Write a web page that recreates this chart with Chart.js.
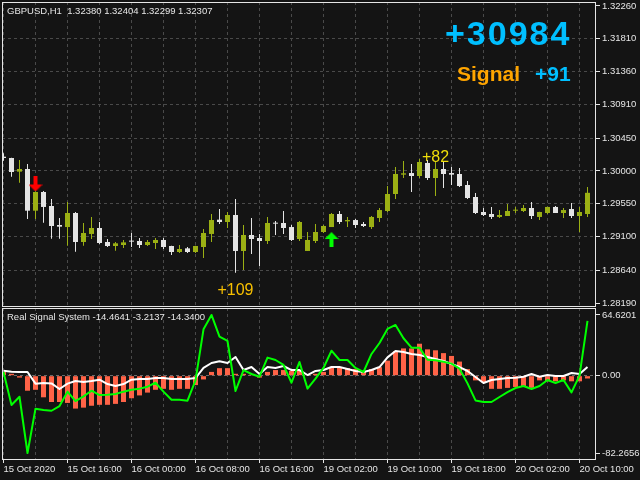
<!DOCTYPE html>
<html>
<head>
<meta charset="utf-8">
<script src="https://cdn.jsdelivr.net/npm/chart.js@4.4.0/dist/chart.umd.min.js"></script>
<style>
html,body{margin:0;padding:0;background:#141414;width:640px;height:480px;overflow:hidden;}
#main{position:absolute;left:0;top:0;}
#osc{position:absolute;left:0;top:307px;}
</style>
</head>
<body>
<canvas id="main" width="640" height="308"></canvas>
<canvas id="osc" width="640" height="173"></canvas>
<script>
// ---------------- DATA ----------------
// hourly GBPUSD candles, 15 Oct 2020 08:00 .. 20 Oct 2020 11:00 (74 bars)
const openP = [1.30195,1.30177,1.29990,1.30026,1.29455,1.29711,1.29519,1.29259,1.29231,1.29423,
1.29026,1.29136,1.29218,1.29026,1.28971,1.28985,1.29040,1.29040,1.28985,1.29012,
1.29053,1.28971,1.28889,1.28939,1.28889,1.28957,1.29136,1.29332,1.29300,1.29396,
1.28903,1.29122,1.29081,1.29040,1.29286,1.29286,1.29231,1.29067,1.28903,1.29040,
1.29163,1.29231,1.29410,1.29309,1.29327,1.29273,1.29231,1.29355,1.29451,1.29684,
1.29949,1.29971,1.29930,1.30109,1.29903,1.30026,1.29971,1.29958,1.29807,1.29643,
1.29437,1.29410,1.29369,1.29382,1.29455,1.29451,1.29492,1.29369,1.29423,1.29506,
1.29423,1.29478,1.29382,1.29410];
const highP = [1.30241,1.30180,1.30150,1.30095,1.29720,1.29725,1.29615,1.29355,1.29574,1.29437,
1.29286,1.29369,1.29300,1.29067,1.29026,1.29053,1.29149,1.29081,1.29053,1.29081,
1.29081,1.28976,1.28985,1.28957,1.28976,1.29204,1.29410,1.29478,1.29437,1.29615,
1.29259,1.29355,1.29136,1.29369,1.29314,1.29451,1.29259,1.29314,1.29163,1.29273,
1.29259,1.29423,1.29451,1.29369,1.29341,1.29300,1.29382,1.29492,1.29793,1.30054,
1.30136,1.30095,1.30163,1.30150,1.30122,1.30122,1.30054,1.30040,1.29862,1.29697,
1.29492,1.29506,1.29464,1.29547,1.29506,1.29533,1.29574,1.29442,1.29510,1.29519,
1.29492,1.29560,1.29506,1.29780];
const lowP = [1.30141,1.29921,1.29839,1.29341,1.29341,1.29291,1.29072,1.29072,1.28976,1.28893,
1.28976,1.29067,1.28999,1.28957,1.28907,1.28944,1.28957,1.28944,1.28971,1.28930,
1.28930,1.28848,1.28875,1.28875,1.28875,1.28807,1.29026,1.29273,1.29218,1.28606,
1.28642,1.28861,1.28697,1.28999,1.29122,1.29136,1.29040,1.29040,1.28903,1.29012,
1.29149,1.29231,1.29273,1.29231,1.29218,1.29231,1.29204,1.29300,1.29437,1.29615,
1.29903,1.29711,1.29903,1.29876,1.29656,1.29766,1.29807,1.29780,1.29615,1.29410,
1.29382,1.29341,1.29355,1.29382,1.29423,1.29437,1.29341,1.29327,1.29410,1.29423,
1.29355,1.29355,1.29163,1.29369];
const closeP = [1.30177,1.29985,1.30026,1.29455,1.29711,1.29506,1.29245,1.29236,1.29423,1.29026,
1.29149,1.29218,1.29012,1.28971,1.29008,1.29021,1.29031,1.28985,1.29026,1.29053,
1.28957,1.28889,1.28930,1.28889,1.28971,1.29149,1.29327,1.29300,1.29396,1.28903,
1.29122,1.29067,1.29040,1.29286,1.29277,1.29218,1.29053,1.29300,1.29053,1.29163,
1.29245,1.29410,1.29300,1.29327,1.29259,1.29245,1.29369,1.29464,1.29684,1.29958,
1.29967,1.29930,1.30122,1.29903,1.30026,1.29958,1.29949,1.29793,1.29629,1.29423,
1.29396,1.29369,1.29396,1.29451,1.29464,1.29492,1.29382,1.29437,1.29506,1.29423,
1.29464,1.29382,1.29437,1.29700];

// Real Signal System indicator
const histValues = [4,2,-2,-16,-15,-23,-28,-28,-29,-35,
-34,-32,-31,-31,-30,-28,-24,-21,-18,-15,
-14,-15,-14,-14,-10,-4,4,8,8,2,
2,1,-2,4,6,6,5,5,1,2,
4,9,9,8,7,5,7,9,16,26,
29,29,34,28,27,24,21,15,7,-5,
-7,-14,-14,-13,-12,-11,-13,-5,-6,-6,
-5,-6,-6,-3];
const whiteLine = [5.3,4.3,3.9,3.9,-8.5,-7.8,-8.2,-14.2,-8.5,-5.7,
-6.7,-5.7,-4.3,-8.9,-11.0,-8.9,-4.3,-3.6,-3.6,-2.5,
-2.5,-3.6,-3.6,-3.6,-2.5,8.2,13.5,15.3,13.5,19.9,
6.0,9.2,1.8,9.2,8.2,10.3,6.0,6.0,0.7,5.0,
6.0,9.2,9.2,7.1,5.0,3.9,6.0,9.2,19.5,26.3,
25.2,23.1,22.0,19.9,17.8,15.6,12.4,9.2,5.0,-1.4,
-7.8,-4.6,-3.6,-2.5,-2.1,-1.1,1.8,-1.1,0.7,-0.4,
-0.4,2.8,1.8,9.2];
const greenLine = [3.9,-31.2,-22.4,-82.2656,-35.1,-36.6,-37.3,-32.3,-17.0,-27.0,
-22.0,-16.0,-20.6,-20.2,-19.5,-17.0,-14.9,-13.8,-11.7,-7.5,
-17.0,-25.6,-25.6,-26.6,-5.0,49.3,64.6201,41.5,36.9,-16.3,
6.0,1.8,-1.1,19.2,16.7,11.4,-7.5,14.6,-13.8,-3.2,
8.2,26.6,16.7,16.7,8.2,3.9,23.1,34.8,49.7,54.0,
39.8,29.8,29.8,17.0,16.3,14.9,12.8,7.5,-8.2,-26.3,
-28.0,-28.0,-22.7,-17.4,-13.1,-11.0,-14.2,-11.0,-4.6,-7.8,
-4.6,-17.8,0,58.2];

// axis ticks
const gridBars = [0,4,8,12,16,20,24,28,32,36,40,44,48,52,56,60,64,68,72];
const timeLabels = ['15 Oct 2020','15 Oct 16:00','16 Oct 00:00','16 Oct 08:00','16 Oct 16:00',
                    '19 Oct 02:00','19 Oct 10:00','19 Oct 18:00','20 Oct 02:00','20 Oct 10:00'];
const priceTicks = [1.32260,1.31810,1.31360,1.30910,1.30450,1.30000,1.29550,1.29100,1.28640,1.28190];
const priceTickLabels = ['1.32260','1.31810','1.31360','1.30910','1.30450','1.30000','1.29550','1.29100','1.28640','1.28190'];
const oscTicks = [64.6201, 0, -82.2656];
const oscTickLabels = ['64.6201','0.00','-82.2656'];

// signals and notes
const sellSignals = [{bar: 4, price: 1.29821}];
const buySignals = [{bar: 41, price: 1.29060}];
const priceNotes = [{bar: 54, price: 1.30122, text: '+82'}, {bar: 29, price: 1.28300, text: '+109'}];
const headerText = 'GBPUSD,H1  1.32380 1.32404 1.32299 1.32307';
const oscHeader = 'Real Signal System -14.4641 -3.2137 -14.3400';

// ---------------- STYLE ----------------
const BULL = '#9bb014', BEAR = '#e4e4e4', GRID = '#4a4a4a', TXT = '#e6e6e6', FRAME = '#e6e6e6';
const NOTE_COLORS = ['#f0de0a', '#f8c000'];
const FONT = "'Liberation Sans', Arial, sans-serif";
Chart.defaults.font.family = FONT;
Chart.defaults.font.size = 9.5;
Chart.defaults.color = TXT;

const XMIN = -0.1875, XMAX = 74.0625;
const PMIN = 1.281352, PMAX = 1.323148;
const OMIN = -89.7, OMAX = 72.0;
const CLEAR = 'rgba(0,0,0,0)';

function makeArrow(color, down) {
  const c = document.createElement('canvas');
  c.width = 14; c.height = 15;
  const g = c.getContext('2d');
  g.fillStyle = color;
  g.beginPath();
  const pts = [[7,0],[14,7],[9,7],[9,15],[5,15],[5,7],[0,7]];
  pts.forEach((p, i) => { const yy = down ? 15 - p[1] : p[1]; if (i === 0) g.moveTo(p[0], yy); else g.lineTo(p[0], yy); });
  g.closePath(); g.fill();
  return c;
}

function xAxis(showLabels) {
  return {
    type: 'linear', min: XMIN, max: XMAX, offset: false, bounds: 'data',
    afterBuildTicks: s => { s.ticks = gridBars.map(v => ({value: v})); },
    afterFit: s => { s.paddingLeft = 0; s.paddingRight = 0; s.height = showLabels ? 20 : 1; },
    ticks: { display: showLabels, autoSkip: false, maxRotation: 0, minRotation: 0, align: 'start', padding: 1, color: TXT,
      callback: v => (v % 8 === 0 ? timeLabels[v / 8] : '') },
    grid: { offset: false, color: GRID, lineWidth: 1, drawOnChartArea: false, drawTicks: showLabels, tickLength: 3,
      tickColor: c => (c.tick && c.tick.value % 8 === 0) ? FRAME : CLEAR, tickBorderDash: [] },
    border: {display: false, dash: [3, 3]}
  };
}

// vertical dashed grid at the x scale's ticks
const vGrid = { id: 'vGrid', beforeDatasetsDraw(chart) {
    const {ctx, chartArea: a, scales: {x}} = chart;
    ctx.save();
    ctx.strokeStyle = GRID; ctx.lineWidth = 1; ctx.setLineDash([3, 3]);
    x.ticks.forEach(t => {
      const px = Math.floor(x.getPixelForValue(t.value)) + 0.5;
      ctx.beginPath(); ctx.moveTo(px, a.top); ctx.lineTo(px, a.bottom); ctx.stroke();
    });
    ctx.restore(); } };

const framePlugin = { id: 'frame', afterDraw(chart) {
    const a = chart.chartArea, ctx = chart.ctx;
    ctx.save(); ctx.strokeStyle = FRAME; ctx.lineWidth = 1;
    ctx.strokeRect(Math.round(a.left) + 0.5, Math.round(a.top) + 0.5, Math.round(a.right - a.left) - 1, Math.round(a.bottom - a.top) - 1);
    ctx.restore(); } };

const mainText = { id: 'mainText', afterDatasetsDraw(chart) {
    const {ctx, scales: {x, y}} = chart;
    ctx.save();
    ctx.font = '9.5px ' + FONT; ctx.fillStyle = TXT; ctx.textBaseline = 'middle'; ctx.textAlign = 'left';
    ctx.fillText(headerText, 7, 11);
    ctx.font = '16px ' + FONT; ctx.textAlign = 'center'; ctx.textBaseline = 'alphabetic';
    priceNotes.forEach((n, i) => { ctx.fillStyle = NOTE_COLORS[i]; ctx.fillText(n.text, x.getPixelForValue(n.bar), y.getPixelForValue(n.price)); });
    ctx.textAlign = 'left';
    ctx.font = 'bold 34px ' + FONT; ctx.fillStyle = '#00bfff';
    try { ctx.letterSpacing = '2px'; } catch (e) {}
    ctx.fillText('+30984', 445, 45);
    try { ctx.letterSpacing = '0px'; } catch (e) {}
    ctx.font = 'bold 21px ' + FONT; ctx.fillStyle = '#ffa500'; ctx.fillText('Signal', 457, 81);
    ctx.fillStyle = '#00bfff'; ctx.fillText('+91', 535, 81);
    ctx.restore(); } };

const oscText = { id: 'oscText', afterDatasetsDraw(chart) {
    const ctx = chart.ctx; ctx.save();
    ctx.font = '9.5px ' + FONT; ctx.fillStyle = TXT; ctx.textBaseline = 'middle'; ctx.textAlign = 'left';
    ctx.fillText(oscHeader, 7, 10.5); ctx.restore(); } };

const idx = openP.map((_, i) => i);

// ---------------- MAIN CHART ----------------
new Chart(document.getElementById('main'), {
  type: 'bar',
  data: { datasets: [
      { label: 'wicks', data: idx.map(i => ({x: i, y: [lowP[i], highP[i]]})), backgroundColor: idx.map(i => closeP[i] > openP[i] ? BULL : BEAR),
        grouped: false, barThickness: 1, maxBarThickness: 1, minBarLength: 1, inflateAmount: 0, borderWidth: 0, order: 2 },
      { label: 'bodies', data: idx.map(i => ({x: i, y: [openP[i], closeP[i]]})), backgroundColor: idx.map(i => closeP[i] > openP[i] ? BULL : BEAR),
        grouped: false, barThickness: 5, maxBarThickness: 5, minBarLength: 1, inflateAmount: 0, borderWidth: 0, order: 1 },
      { type: 'scatter', label: 'sell', data: sellSignals.map(s => ({x: s.bar, y: s.price})), pointStyle: makeArrow('#ff0000', true), pointRadius: 7, order: 0 },
      { type: 'scatter', label: 'buy', data: buySignals.map(s => ({x: s.bar, y: s.price})), pointStyle: makeArrow('#00ff00', false), pointRadius: 7, order: 0 } ] },
  options: { responsive: false, maintainAspectRatio: false, animation: false, events: [],
    layout: {autoPadding: false, padding: {left: 2, top: 2, right: 0, bottom: 0}},
    plugins: {legend: {display: false}, tooltip: {enabled: false}},
    scales: { x: xAxis(false),
      y: { type: 'linear', position: 'right', min: PMIN, max: PMAX, bounds: 'data',
        afterBuildTicks: s => { s.ticks = priceTicks.map(v => ({value: v})); },
        afterFit: s => { s.width = 44; s.paddingTop = 0; s.paddingBottom = 0; },
        ticks: {padding: 2, color: TXT, callback: (v, i) => priceTickLabels[i]},
        grid: { color: c => (c.index > 0 && c.index < 9) ? GRID : CLEAR, drawTicks: true, tickLength: 4, tickColor: FRAME, tickBorderDash: [] },
        border: {display: false, dash: [3, 3]} } } },
  plugins: [vGrid, mainText, framePlugin]
});

// ---------------- OSCILLATOR ----------------
new Chart(document.getElementById('osc'), {
  type: 'bar',
  data: { datasets: [
      { label: 'histogram', data: idx.map(i => ({x: i, y: histValues[i]})), backgroundColor: '#ff6347', grouped: false, barThickness: 5, maxBarThickness: 5, inflateAmount: 0, borderWidth: 0, order: 3 },
      { type: 'line', label: 'signal', data: idx.map(i => ({x: i, y: whiteLine[i]})), borderColor: '#ffffff', borderWidth: 2, pointRadius: 0, tension: 0, borderJoinStyle: 'round', fill: false, order: 2 },
      { type: 'line', label: 'fast', data: idx.map(i => ({x: i, y: greenLine[i]})), borderColor: '#00ff00', borderWidth: 2, pointRadius: 0, tension: 0, borderJoinStyle: 'round', fill: false, order: 1 } ] },
  options: { responsive: false, maintainAspectRatio: false, animation: false, events: [],
    layout: {autoPadding: false, padding: {left: 2, top: 1, right: 0, bottom: 0}},
    plugins: {legend: {display: false}, tooltip: {enabled: false}},
    scales: { x: xAxis(true),
      y: { type: 'linear', position: 'right', min: OMIN, max: OMAX, bounds: 'data',
        afterBuildTicks: s => { s.ticks = oscTicks.map(v => ({value: v})); },
        afterFit: s => { s.width = 44; s.paddingTop = 0; s.paddingBottom = 0; },
        ticks: {padding: 2, color: TXT, callback: (v, i) => oscTickLabels[i]},
        grid: { color: c => (c.tick && c.tick.value === 0) ? '#6a6a6a' : CLEAR, drawTicks: true, tickLength: 4, tickColor: FRAME, tickBorderDash: [] },
        border: {display: false, dash: [3, 3]} } } },
  plugins: [vGrid, oscText, framePlugin]
});
</script>
</body>
</html>
